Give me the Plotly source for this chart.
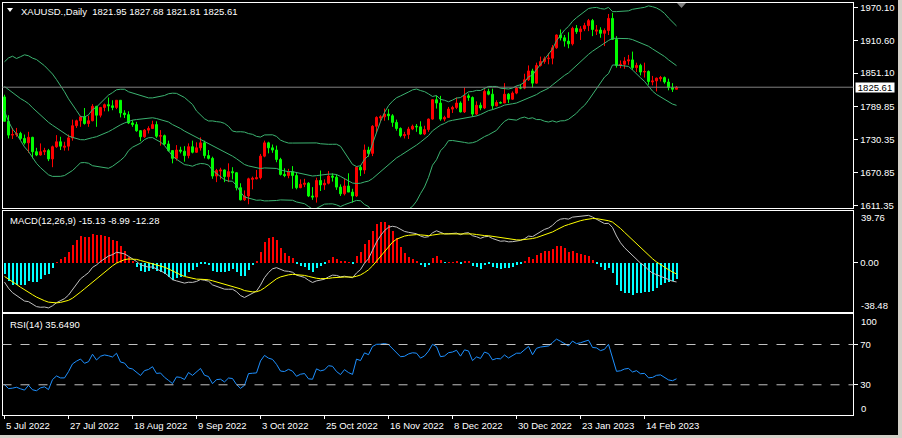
import pandas as pd
import plotly.graph_objects as go

# closes before the visible window (Apr - 4 Jul 2022), only used to warm up the indicators
hist_close = [1925, 1932, 1923, 1925, 1931, 1946, 1953, 1966, 1977, 1970, 1979, 1950, 1958, 1951,
              1932, 1898, 1904, 1886, 1894, 1896,
              1863, 1868, 1881, 1877, 1883, 1854, 1838, 1852, 1822, 1811, 1824, 1815, 1816, 1841,
              1846, 1853, 1866, 1853, 1850, 1853, 1856, 1837,
              1848, 1869, 1851, 1841, 1852, 1853, 1848, 1871, 1819, 1808, 1834, 1857, 1839, 1839,
              1832, 1838, 1822, 1827, 1823, 1820, 1818, 1807, 1811, 1808]

# XAUUSD daily, 5 Jul 2022 .. 24 Feb 2023
opens = [1808, 1764, 1739, 1740, 1742, 1733, 1725, 1735, 1709, 1703, 1709, 1711, 1696, 1718, 1727, 1717,
         1719, 1734, 1756, 1765, 1772, 1760, 1765, 1791, 1775, 1789, 1794, 1792, 1789, 1802, 1779, 1776,
         1761, 1758, 1747, 1736, 1748, 1751, 1758, 1737, 1738, 1723, 1711, 1697, 1712, 1710, 1702, 1718,
         1708, 1716, 1725, 1702, 1697, 1665, 1674, 1676, 1664, 1673, 1671, 1644, 1622, 1629, 1659, 1660,
         1662, 1701, 1725, 1716, 1712, 1695, 1668, 1666, 1673, 1666, 1644, 1650, 1652, 1629, 1627, 1657,
         1649, 1652, 1665, 1663, 1645, 1633, 1647, 1636, 1629, 1681, 1676, 1712, 1706, 1755, 1770, 1772,
         1777, 1774, 1762, 1751, 1738, 1740, 1750, 1755, 1754, 1741, 1749, 1768, 1803, 1797, 1768, 1771,
         1786, 1789, 1797, 1781, 1810, 1807, 1777, 1793, 1788, 1818, 1813, 1792, 1798, 1797, 1813, 1804,
         1815, 1825, 1824, 1839, 1855, 1833, 1865, 1872, 1877, 1878, 1897, 1920, 1915, 1909, 1904, 1932,
         1926, 1931, 1937, 1946, 1927, 1929, 1923, 1928, 1950, 1912, 1865, 1867, 1873, 1875, 1861, 1865,
         1853, 1854, 1835, 1837, 1841, 1843, 1835, 1825, 1821.95]
highs = [1812, 1775, 1752, 1752, 1745, 1740, 1745, 1736, 1716, 1724, 1716, 1714, 1720, 1739, 1736, 1727,
         1740, 1767, 1767, 1774, 1788, 1774, 1795, 1792, 1790, 1796, 1807, 1802, 1802, 1802, 1784, 1782,
         1766, 1763, 1748, 1750, 1755, 1765, 1764, 1748, 1740, 1729, 1712, 1721, 1718, 1719, 1724, 1729,
         1726, 1735, 1729, 1712, 1700, 1678, 1680, 1677, 1688, 1681, 1672, 1652, 1639, 1662, 1664, 1676,
         1705, 1729, 1727, 1722, 1720, 1698, 1679, 1678, 1683, 1671, 1659, 1660, 1654, 1645, 1662, 1675,
         1659, 1674, 1670, 1668, 1650, 1660, 1670, 1642, 1682, 1685, 1722, 1718, 1757, 1773, 1775, 1787,
         1786, 1777, 1767, 1753, 1745, 1754, 1758, 1759, 1764, 1756, 1769, 1804, 1810, 1810, 1774, 1790,
         1792, 1807, 1800, 1825, 1814, 1809, 1800, 1798, 1822, 1823, 1823, 1802, 1800, 1833, 1815, 1818,
         1827, 1831, 1850, 1865, 1859, 1870, 1881, 1881, 1887, 1902, 1921, 1930, 1920, 1925, 1935, 1938,
         1936, 1942, 1949, 1949, 1938, 1934, 1932, 1958, 1960, 1918, 1874, 1880, 1884, 1890, 1870, 1868,
         1870, 1856, 1846, 1843, 1846, 1845, 1841, 1833, 1827.68]
lows = [1764, 1733, 1732, 1736, 1730, 1722, 1707, 1697, 1701, 1702, 1703, 1692, 1681, 1716, 1712, 1711,
        1711, 1729, 1752, 1754, 1758, 1754, 1764, 1754, 1771, 1782, 1782, 1784, 1786, 1771, 1770, 1759,
        1754, 1745, 1728, 1734, 1742, 1750, 1734, 1720, 1721, 1709, 1688, 1693, 1706, 1691, 1697, 1706,
        1707, 1711, 1697, 1695, 1660, 1654, 1659, 1654, 1654, 1659, 1639, 1621, 1620, 1614, 1641, 1659,
        1659, 1699, 1706, 1707, 1690, 1666, 1663, 1661, 1642, 1641, 1643, 1645, 1627, 1622, 1617, 1638,
        1640, 1650, 1655, 1640, 1629, 1630, 1636, 1617, 1627, 1665, 1669, 1700, 1701, 1744, 1763, 1765,
        1766, 1754, 1747, 1735, 1733, 1732, 1748, 1745, 1740, 1739, 1745, 1767, 1787, 1765, 1764, 1770,
        1779, 1786, 1780, 1779, 1801, 1773, 1775, 1784, 1786, 1811, 1785, 1791, 1796, 1797, 1797, 1803,
        1813, 1822, 1822, 1837, 1825, 1832, 1863, 1868, 1867, 1867, 1895, 1910, 1899, 1896, 1901, 1922,
        1911, 1927, 1927, 1918, 1920, 1915, 1900, 1920, 1911, 1861, 1860, 1859, 1866, 1857, 1853, 1847,
        1843, 1830, 1829, 1818, 1836, 1832, 1820, 1817, 1821.81]
closes = [1764, 1739, 1740, 1742, 1733, 1725, 1735, 1709, 1703, 1709, 1711, 1696, 1718, 1727, 1719, 1719,
          1734, 1756, 1765, 1772, 1760, 1765, 1791, 1775, 1789, 1794, 1792, 1789, 1802, 1779, 1776, 1761,
          1758, 1747, 1736, 1748, 1751, 1758, 1737, 1738, 1723, 1711, 1697, 1712, 1710, 1702, 1718, 1708,
          1716, 1725, 1702, 1697, 1665, 1675, 1676, 1664, 1673, 1671, 1644, 1622, 1629, 1660, 1661, 1662,
          1701, 1725, 1716, 1712, 1695, 1668, 1666, 1673, 1666, 1644, 1650, 1652, 1629, 1627, 1657, 1649,
          1652, 1665, 1663, 1645, 1633, 1647, 1636, 1629, 1681, 1676, 1712, 1706, 1755, 1771, 1772, 1777,
          1774, 1762, 1751, 1738, 1740, 1750, 1755, 1754, 1741, 1749, 1768, 1803, 1797, 1768, 1771, 1786,
          1789, 1797, 1781, 1810, 1807, 1777, 1793, 1788, 1818, 1813, 1792, 1798, 1797, 1813, 1804, 1815,
          1824, 1824, 1839, 1855, 1833, 1865, 1872, 1877, 1878, 1897, 1920, 1915, 1909, 1904, 1932, 1926,
          1931, 1937, 1946, 1930, 1929, 1923, 1928, 1950, 1912, 1865, 1867, 1873, 1875, 1861, 1865, 1853,
          1854, 1836, 1837, 1842, 1843, 1835, 1825, 1822, 1825.61]

date_pos = [0, 16, 32, 48, 64, 80, 96, 112, 128, 144, 160]
date_text = ["5 Jul 2022", "27 Jul 2022", "18 Aug 2022", "9 Sep 2022", "3 Oct 2022", "25 Oct 2022",
             "16 Nov 2022", "8 Dec 2022", "30 Dec 2022", "23 Jan 2023", "14 Feb 2023"]
price_ticks = [1970.10, 1910.60, 1851.10, 1789.85, 1730.35, 1670.85, 1611.35]
last_price = 1825.61

W, H = 902, 438
FONT = "Liberation Sans, Arial, sans-serif"


def fx(p):
    return p / W


def fy(p):
    return 1 - p / H


# indicators (Bollinger 20/2, MACD 12/26/9, RSI 14)
c = pd.Series(hist_close + closes, dtype=float)
n0 = len(hist_close)
mid = c.rolling(20).mean()
sd = c.rolling(20).std(ddof=0)
bb_mid = mid[n0:].tolist()
bb_up = (mid + 2 * sd)[n0:].tolist()
bb_lo = (mid - 2 * sd)[n0:].tolist()
macd = c.ewm(span=12, adjust=False).mean() - c.ewm(span=26, adjust=False).mean()
sig = macd.ewm(span=9, adjust=False).mean()
osma = (2 * (macd - sig))[n0:].tolist()
macd = macd[n0:].tolist()
sig = sig[n0:].tolist()
d = c.diff()
up = d.clip(lower=0).ewm(alpha=1 / 14, adjust=False).mean()
dn = (-d.clip(upper=0)).ewm(alpha=1 / 14, adjust=False).mean()
rsi = (100 - 100 / (1 + up / dn))[n0:].tolist()

x = list(range(len(closes)))

fig = go.Figure()
fig.add_trace(go.Candlestick(
    x=x, open=opens, high=highs, low=lows, close=closes,
    increasing=dict(line=dict(color="#FF0000", width=1), fillcolor="#FF0000"),
    decreasing=dict(line=dict(color="#00FF00", width=1), fillcolor="#00FF00"),
    whiskerwidth=0, xaxis="x", yaxis="y", hoverinfo="skip"))
for band in (bb_up, bb_mid, bb_lo):
    fig.add_trace(go.Scatter(x=x, y=band, mode="lines", line=dict(color="#3CB371", width=1),
                             xaxis="x", yaxis="y", hoverinfo="skip"))

fig.add_trace(go.Bar(x=x, y=osma, width=0.25,
                     marker=dict(color=["#FF0000" if v > 0 else "#00FFFF" for v in osma], line=dict(width=0)),
                     xaxis="x2", yaxis="y2", hoverinfo="skip"))
fig.add_trace(go.Scatter(x=x, y=macd, mode="lines", line=dict(color="#C0C0C0", width=1),
                         xaxis="x2", yaxis="y2", hoverinfo="skip"))
fig.add_trace(go.Scatter(x=x, y=sig, mode="lines", line=dict(color="#FFFF00", width=1),
                         xaxis="x2", yaxis="y2", hoverinfo="skip"))

fig.add_trace(go.Scatter(x=x, y=rsi, mode="lines", line=dict(color="#1E90FF", width=1),
                         xaxis="x3", yaxis="y3", hoverinfo="skip"))

xdom = [fx(2.5), fx(853.3)]
xr = [-0.5, 212.2]
frame = dict(showline=True, mirror=True, linecolor="white", linewidth=1, showgrid=False, zeroline=False)
tfont = dict(family=FONT, size=9.5, color="white")

fig.update_layout(
    width=W, height=H, margin=dict(l=0, r=0, t=0, b=0),
    paper_bgcolor="black", plot_bgcolor="black", showlegend=False, bargap=0,
    xaxis=dict(domain=xdom, range=xr, anchor="y", showticklabels=False, ticks="",
               rangeslider=dict(visible=False), **frame),
    xaxis2=dict(domain=xdom, range=xr, anchor="y2", showticklabels=False, ticks="", **frame),
    xaxis3=dict(domain=xdom, range=xr, anchor="y3", showticklabels=False, ticks="outside",
                tickvals=date_pos, ticklen=3, tickcolor="white", **frame),
    yaxis=dict(domain=[fy(208.3), fy(2.7)], range=[1606.7, 1978.4], side="right", anchor="x",
               tickvals=price_ticks, ticktext=["%.2f" % v for v in price_ticks],
               ticks="outside", ticklen=4, tickcolor="white", tickfont=tfont, automargin=False, **frame),
    yaxis2=dict(domain=[fy(312.3), fy(210.7)], range=[-38.48, 39.76], side="right", anchor="x2",
                tickvals=[0], ticktext=["0.00"], ticks="outside", ticklen=4, tickcolor="white",
                tickfont=tfont, automargin=False, **frame),
    yaxis3=dict(domain=[fy(415), fy(314.3)], range=[0, 100], side="right", anchor="x3",
                tickvals=[70, 30], ticktext=["70", "30"], ticks="outside", ticklen=4, tickcolor="white",
                tickfont=tfont, automargin=False, **frame),
)

shapes = [
    dict(type="line", xref="paper", x0=xdom[0], x1=xdom[1], yref="y", y0=last_price, y1=last_price,
         line=dict(color="#808080", width=1)),
    dict(type="line", xref="paper", x0=xdom[0], x1=xdom[1], yref="y3", y0=70, y1=70,
         line=dict(color="#C0C0C0", width=1, dash="dash")),
    dict(type="line", xref="paper", x0=xdom[0], x1=xdom[1], yref="y3", y0=30, y1=30,
         line=dict(color="#C0C0C0", width=1, dash="dash")),
    # header triangle and chart-shift marker
    dict(type="path", xref="paper", yref="paper", fillcolor="white", line=dict(width=0),
         path="M %f,%f L %f,%f L %f,%f Z" % (fx(7), fy(8), fx(13), fy(8), fx(10), fy(12))),
    dict(type="path", xref="paper", yref="paper", fillcolor="#808080", line=dict(width=0),
         path="M %f,%f L %f,%f L %f,%f Z" % (fx(677), fy(3), fx(686), fy(3), fx(681.5), fy(8))),
    # window frame
    dict(type="rect", xref="paper", yref="paper", x0=fx(898), x1=1, y0=0, y1=1,
         fillcolor="#D4D0C8", line=dict(width=0)),
    dict(type="rect", xref="paper", yref="paper", x0=0, x1=1, y0=0, y1=fy(435),
         fillcolor="#D4D0C8", line=dict(width=0)),
]
fig.update_layout(shapes=shapes)

ann = []
lab = dict(family=FONT, size=9.5, color="white")
ann.append(dict(text="XAUUSD.,Daily  1821.95 1827.68 1821.81 1825.61", xref="paper", yref="paper",
                x=fx(19), y=fy(11), xanchor="left", yanchor="middle", showarrow=False, font=lab))
ann.append(dict(text="MACD(12,26,9) -15.13 -8.99 -12.28", xref="paper", yref="paper",
                x=fx(8), y=fy(220), xanchor="left", yanchor="middle", showarrow=False, font=lab))
ann.append(dict(text="RSI(14) 35.6490", xref="paper", yref="paper",
                x=fx(8), y=fy(324), xanchor="left", yanchor="middle", showarrow=False, font=lab))
for t, py in (("39.76", 218), ("-38.48", 305), ("100", 321.7), ("0", 408.3)):
    ann.append(dict(text=t, xref="paper", yref="paper", x=fx(859), y=fy(py), xanchor="left",
                    yanchor="middle", showarrow=False, font=lab))
ann.append(dict(text="1825.61", xref="paper", yref="y", x=fx(855), y=last_price, xanchor="left",
                yanchor="middle", showarrow=False, bgcolor="white", width=38, height=9, borderpad=0,
                font=dict(family=FONT, size=9.5, color="black")))
for p, t in zip(date_pos, date_text):
    ann.append(dict(text=t, xref="x3", yref="paper", x=p, y=fy(425), xanchor="left", yanchor="middle",
                    xshift=-1, showarrow=False, font=lab))
fig.update_layout(annotations=ann)

# the page gets no body margin so the figure sits at the window's top-left corner
fig.write_html("out.html", config={"displayModeBar": False},
               post_script="document.body.style.margin='0';document.body.style.overflow='hidden';")
